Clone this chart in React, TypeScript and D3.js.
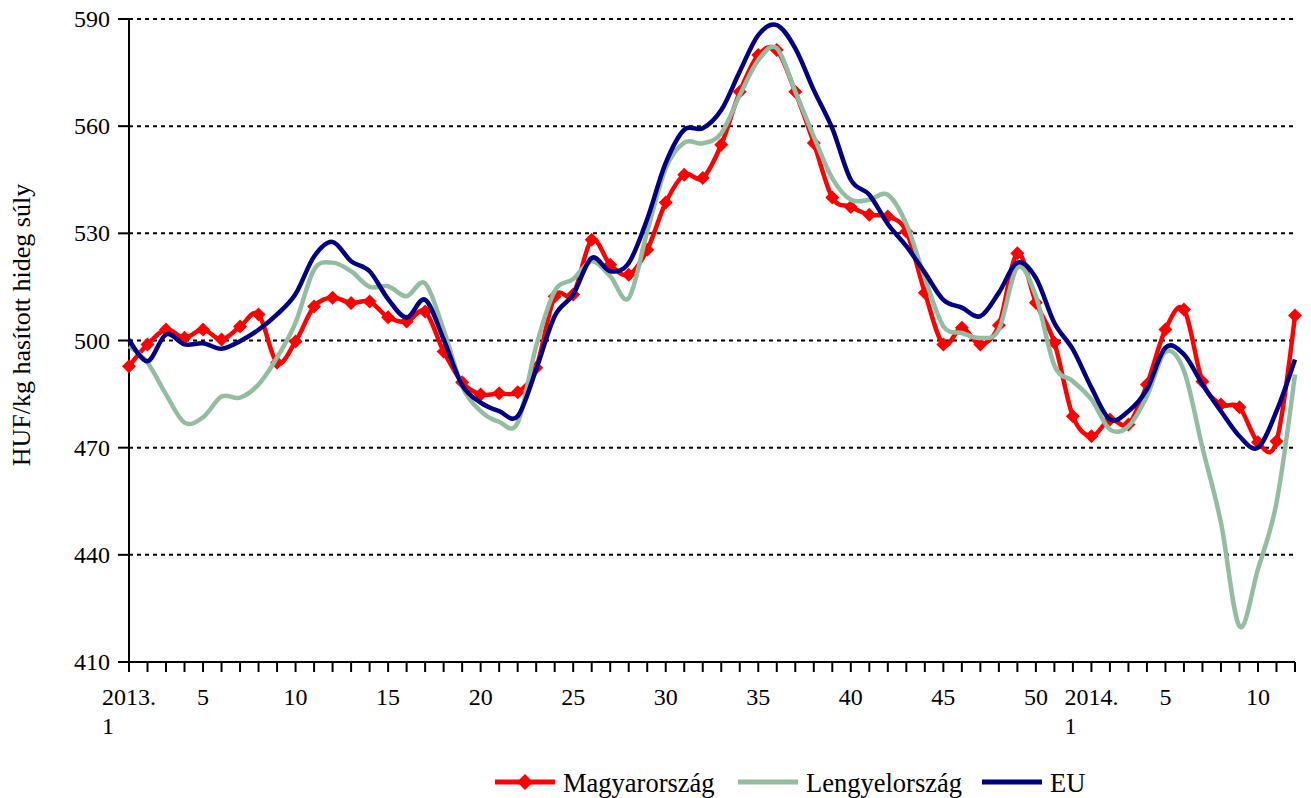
import * as d3 from "d3";

// weekly categories: 2013 week 1..52, then 2014 week 1..12
const weeks = [
  "2013.|1", "2", "3", "4", "5", "6", "7", "8", "9", "10",
  "11", "12", "13", "14", "15", "16", "17", "18", "19", "20",
  "21", "22", "23", "24", "25", "26", "27", "28", "29", "30",
  "31", "32", "33", "34", "35", "36", "37", "38", "39", "40",
  "41", "42", "43", "44", "45", "46", "47", "48", "49", "50",
  "51", "52", "2014.|1", "2", "3", "4", "5", "6", "7", "8",
  "9", "10", "11", "12",
];

const magyarorszag = [
  492.8, 498.9, 503.1, 500.8, 503.1, 500.3, 503.9, 507.3, 493.8, 499.7,
  509.5, 512.0, 510.5, 510.9, 506.5, 505.3, 508.1, 496.9, 488.3, 484.9,
  485.2, 485.5, 492.4, 512.3, 512.9, 528.2, 521.2, 518.4, 525.4, 538.6,
  546.4, 545.5, 554.8, 569.6, 579.9, 581.3, 569.6, 555.3, 540.0, 537.4,
  535.2, 534.7, 530.5, 513.4, 498.9, 503.6, 498.9, 504.3, 524.4, 510.6,
  499.4, 478.8, 473.2, 477.9, 476.5, 487.7, 503.1, 508.7, 488.5, 482.1,
  481.3, 471.5, 471.8, 507.0,
];

const lengyelorszag = [
  498.4, 493.8, 484.9, 477.0, 478.5, 484.3, 484.0, 487.7, 495.2, 505.0,
  519.8, 521.8, 519.4, 515.0, 515.2, 512.4, 516.0, 503.0, 487.2, 480.2,
  477.2, 477.0, 498.4, 513.8, 517.2, 522.2, 518.0, 511.9, 530.5, 548.2,
  555.4, 555.2, 558.0, 568.7, 578.5, 581.8, 569.7, 557.1, 545.4, 539.4,
  539.4, 540.8, 532.6, 517.5, 504.0, 502.1, 500.7, 503.1, 520.5, 512.4,
  493.0, 488.6, 483.5, 475.1, 476.0, 484.4, 496.8, 491.5, 470.0, 449.0,
  420.0, 436.0, 454.6, 490.5,
];

const eu = [
  500.3, 494.2, 501.7, 498.9, 499.2, 497.7, 499.8, 503.0, 507.3, 513.0,
  523.5, 527.6, 522.2, 519.4, 511.6, 506.4, 511.4, 500.3, 487.5, 482.6,
  480.2, 478.8, 491.9, 506.8, 512.9, 523.1, 519.4, 521.7, 534.0, 549.7,
  559.0, 559.4, 564.5, 575.3, 585.5, 588.3, 581.8, 570.1, 559.4, 545.0,
  540.8, 532.6, 526.4, 519.0, 511.4, 509.2, 506.8, 513.4, 521.8, 517.5,
  504.9, 497.5, 486.8, 477.9, 480.2, 486.3, 498.0, 496.1, 487.7, 480.2,
  473.2, 470.0, 480.2, 494.7,
];

const yTicks = [410, 440, 470, 500, 530, 560, 590];

const seriesNames = ["Magyarország", "Lengyelország", "EU"];
const seriesColors = ["#ff0000", "#93bda0", "#000080"];

const FONT = "'Liberation Serif', 'Times New Roman', serif";
const W = 1311;
const H = 798;

const diamond = (r: number) => `M0,${-r}L${r},0L0,${r}L${-r},0Z`;

export default function App() {
  const left = 129;
  const right = 1295;
  const top = 19;
  const bottom = 662;

  const x = d3.scaleLinear([0, weeks.length - 1], [left, right]);
  const y = d3.scaleLinear([410, 590], [bottom, top]);
  const line = d3
    .line<number>()
    .x((_, i) => x(i))
    .y((d) => y(d))
    .curve(d3.curveCardinal.tension(0));

  const legendX = [495, 738, 982];

  return (
    <svg
      width={W}
      height={H}
      style={{ position: "absolute", left: 0, top: 0, background: "#fff" }}
      fontFamily={FONT}
    >
      {/* grid */}
      {yTicks
        .filter((t) => t !== 410)
        .map((t) => (
          <line
            key={t}
            x1={left}
            x2={right}
            y1={y(t)}
            y2={y(t)}
            stroke="#000"
            strokeWidth={2}
            strokeDasharray="4,4"
          />
        ))}

      {/* y axis */}
      <line x1={left} x2={left} y1={top} y2={bottom} stroke="#000" strokeWidth={2} />
      {yTicks.map((t) => (
        <g key={t}>
          <line x1={left - 11} x2={left} y1={y(t)} y2={y(t)} stroke="#000" strokeWidth={2} />
          <text x={110} y={y(t) + 8} textAnchor="end" fontSize={24}>
            {t}
          </text>
        </g>
      ))}
      <text
        transform={`translate(30,325) rotate(-90)`}
        textAnchor="middle"
        fontSize={26}
      >
        HUF/kg hasított hideg súly
      </text>

      {/* x axis */}
      <line x1={left} x2={right} y1={bottom} y2={bottom} stroke="#000" strokeWidth={2} />
      {weeks.map((w, i) => (
        <line
          key={i}
          x1={x(i)}
          x2={x(i)}
          y1={bottom}
          y2={bottom + 10}
          stroke="#000"
          strokeWidth={2}
        />
      ))}
      {weeks.map((w, i) => {
        if (w.includes("|")) {
          const [yr, wk] = w.split("|");
          return (
            <g key={i} fontSize={24}>
              <text x={x(i)} y={705} textAnchor="middle">
                {yr}
              </text>
              <text x={x(i) - 27} y={734}>
                {wk}
              </text>
            </g>
          );
        }
        if (+w % 5 !== 0) return null;
        return (
          <text key={i} x={x(i)} y={705} textAnchor="middle" fontSize={24}>
            {w}
          </text>
        );
      })}

      {/* series: Magyarország with markers, then Lengyelország, EU on top */}
      <path
        d={line(magyarorszag) || undefined}
        fill="none"
        stroke={seriesColors[0]}
        strokeWidth={4.5}
        strokeLinejoin="round"
      />
      <g fill={seriesColors[0]}>
        {magyarorszag.map((d, i) => (
          <path key={i} d={diamond(7)} transform={`translate(${x(i)},${y(d)})`} />
        ))}
      </g>
      <path
        d={line(lengyelorszag) || undefined}
        fill="none"
        stroke={seriesColors[1]}
        strokeWidth={4.5}
        strokeLinejoin="round"
      />
      <path
        d={line(eu) || undefined}
        fill="none"
        stroke={seriesColors[2]}
        strokeWidth={4.5}
        strokeLinejoin="round"
      />

      {/* legend */}
      {seriesNames.map((n, k) => (
        <g key={n}>
          <line
            x1={legendX[k]}
            x2={legendX[k] + 60}
            y1={782}
            y2={782}
            stroke={seriesColors[k]}
            strokeWidth={5}
          />
          {k === 0 && (
            <path d={diamond(8)} fill={seriesColors[0]} transform={`translate(${legendX[k] + 30},782)`} />
          )}
          <text x={legendX[k] + 68} y={792} fontSize={26.5}>
            {n}
          </text>
        </g>
      ))}
    </svg>
  );
}
